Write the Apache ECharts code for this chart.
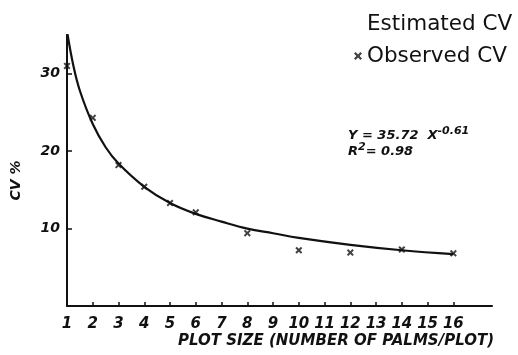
<!DOCTYPE html>
<html>
<head>
<meta charset="utf-8">
<script src="https://cdn.jsdelivr.net/npm/echarts@6/dist/echarts.min.js"></script>
<style>
  html, body { margin: 0; padding: 0; background: #fff; }
  #chart { width: 518px; height: 355px; }
</style>
</head>
<body>
<div id="chart"></div>
<script>
// plot size ticks (number of palms per plot)
var xTicks = [1, 2, 3, 4, 5, 6, 7, 8, 9, 10, 11, 12, 13, 14, 15, 16];
var yTicks = [10, 20, 30];

// estimated CV curve
var estimatedX = [1, 1.25, 1.5, 2, 2.5, 3, 4, 5, 6, 7, 8, 9, 10, 12, 14, 16];
var estimatedY = [35.5, 31.0, 27.8, 23.5, 20.5, 18.4, 15.4, 13.3, 11.9, 10.9, 10.0, 9.4, 8.8, 7.9, 7.2, 6.7];

// observed CV points
var observedX = [1, 2, 3, 4, 5, 6, 8, 10, 12, 14, 16];
var observedY = [31, 24.3, 18.2, 15.4, 13.3, 12.1, 9.4, 7.2, 6.9, 7.3, 6.8];

var crossIcon = 'path://M0,2 L2,0 L5,3 L8,0 L10,2 L7,5 L10,8 L8,10 L5,7 L2,10 L0,8 L3,5 Z';
var handFont = '"DejaVu Sans", sans-serif';

function pairs(xs, ys) {
  var out = [];
  for (var i = 0; i < xs.length; i++) {
    out.push([xs[i], ys[i]]);
  }
  return out;
}

var myChart = echarts.init(document.getElementById('chart'));
var option = {
  backgroundColor: '#fff',
  animation: false,
  grid: { left: 67, right: 26, top: 35, bottom: 49 },
  legend: {
    orient: 'vertical',
    left: 349,
    top: 8,
    itemGap: 10,
    itemWidth: 8,
    itemHeight: 8,
    textStyle: { fontFamily: handFont, fontSize: 21.5, color: '#111' },
    data: [
      { name: 'Estimated CV', icon: 'none' },
      { name: 'Observed CV', icon: crossIcon }
    ]
  },
  xAxis: {
    type: 'value',
    min: 1,
    max: 17.5,
    interval: 1,
    splitLine: { show: false },
    axisLine: { lineStyle: { color: '#111', width: 2 } },
    axisTick: { inside: true, length: 4, lineStyle: { color: '#111', width: 1.5 }, customValues: xTicks },
    axisLabel: {
      customValues: xTicks,
      margin: 11,
      fontFamily: handFont, fontStyle: 'italic', fontWeight: 'bold', fontSize: 15, color: '#111'
    }
  },
  yAxis: {
    type: 'value',
    min: 0,
    max: 35,
    interval: 10,
    name: 'CV %',
    nameLocation: 'middle',
    nameRotate: 90,
    nameGap: 44,
    nameTextStyle: {
      fontFamily: handFont, fontStyle: 'italic', fontWeight: 'bold', fontSize: 14, color: '#111',
      padding: [0, 20, 0, 0]
    },
    splitLine: { show: false },
    axisLine: { show: true, lineStyle: { color: '#111', width: 2 } },
    axisTick: { show: true, inside: true, length: 5, lineStyle: { color: '#111', width: 1.5 }, customValues: yTicks },
    axisLabel: {
      customValues: yTicks,
      margin: 7,
      fontFamily: handFont, fontStyle: 'italic', fontWeight: 'bold', fontSize: 14, color: '#111'
    }
  },
  graphic: [
    {
      type: 'text',
      left: 178,
      top: 334,
      style: {
        text: 'PLOT SIZE (NUMBER OF PALMS/PLOT)',
        fontFamily: handFont, fontStyle: 'italic', fontWeight: 'bold', fontSize: 15, fill: '#111'
      }
    },
    {
      type: 'text',
      left: 348,
      top: 126,
      style: {
        text: '{b|Y = 35.72  X}{s|-0.61}\n{b|R}{s|2}{b|= 0.98}',
        rich: {
          b: { fontFamily: handFont, fontStyle: 'italic', fontWeight: 'bold', fontSize: 13, fill: '#111', lineHeight: 16, verticalAlign: 'bottom' },
          s: { fontFamily: handFont, fontStyle: 'italic', fontWeight: 'bold', fontSize: 11, fill: '#111', lineHeight: 16, verticalAlign: 'top', padding: [0, 0, 10, 0] }
        }
      }
    }
  ],
  series: [
    {
      name: 'Estimated CV',
      type: 'line',
      data: pairs(estimatedX, estimatedY),
      smooth: 0.4,
      showSymbol: false,
      lineStyle: { color: '#111', width: 2.2 },
      itemStyle: { color: '#111' },
      z: 2
    },
    {
      name: 'Observed CV',
      type: 'scatter',
      data: pairs(observedX, observedY),
      symbol: crossIcon,
      symbolSize: 7,
      itemStyle: { color: '#111' },
      z: 3
    }
  ]
};
myChart.setOption(option);
window.onresize = myChart.resize;
</script>
</body>
</html>
